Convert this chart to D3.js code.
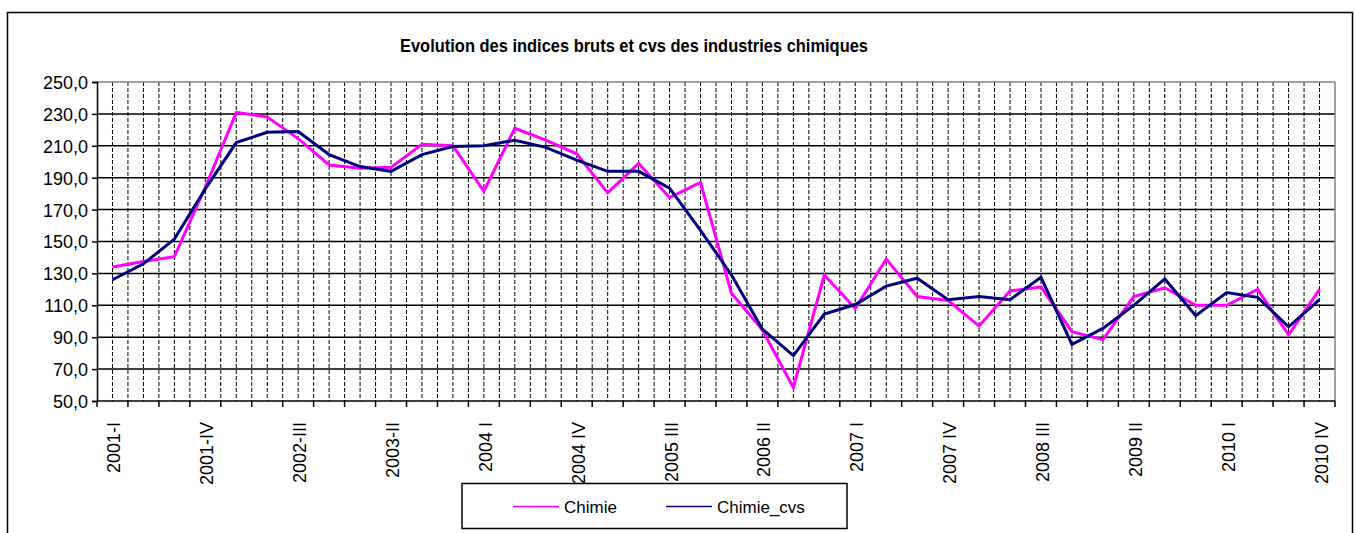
<!DOCTYPE html>
<html>
<head>
<meta charset="utf-8">
<script src="https://cdn.jsdelivr.net/npm/d3@7"></script>
<style>
  body { margin: 0; background: #fff; }
  text { font-family: "Liberation Sans", Arial, sans-serif; }
</style>
</head>
<body>
<div id="chart"></div>
<script>
// Quarters, 2001-I .. 2010-IV
var categories = [
  "2001-I", "2001-II", "2001-III", "2001-IV",
  "2002-I", "2002-II", "2002-III", "2002-IV",
  "2003-I", "2003-II", "2003-III", "2003-IV",
  "2004 I", "2004 II", "2004 III", "2004 IV",
  "2005 I", "2005 II", "2005 III", "2005 IV",
  "2006 I", "2006 II", "2006 III", "2006 IV",
  "2007 I", "2007 II", "2007 III", "2007 IV",
  "2008 I", "2008 II", "2008 III", "2008 IV",
  "2009 I", "2009 II", "2009 III", "2009 IV",
  "2010 I", "2010 II", "2010 III", "2010 IV"
];

// Raw index
var chimie = [
  134, 137.5, 140.5, 184, 231, 228, 214.5, 198, 196, 196.5,
  211, 210, 181.5, 221, 213.5, 205, 180.5, 199, 177.5, 187,
  117.5, 94.5, 58.5, 129, 108, 139, 115.5, 113, 97, 119,
  121.5, 93.5, 88.5, 115.5, 121, 110, 110, 120, 91.5, 120
];

// Seasonally adjusted index
var chimieCvs = [
  126, 136, 151.5, 183, 212, 218.5, 219, 204.5, 197, 194,
  204.5, 209.5, 210, 213.5, 209, 201, 194, 194, 183.5, 157,
  129, 95, 78.5, 104.5, 110.5, 122, 127, 113.5, 115.5, 113.5,
  127.5, 85.5, 95.5, 110, 126.5, 103.5, 118, 115, 96.5, 113.5
];

var yTicks = [50, 70, 90, 110, 130, 150, 170, 190, 210, 230, 250];

var seriesNames = ["Chimie", "Chimie_cvs"];
var seriesColors = ["#ff00ff", "#000080"];

var W = 1355, H = 533;
var plot = { left: 97, right: 1335, top: 82, bottom: 401 };

var svg = d3.select("#chart").append("svg")
  .attr("width", W)
  .attr("height", H);

// outer chart frame (bottom edge is off the picture)
svg.append("rect")
  .attr("x", 7.5).attr("y", 12.5)
  .attr("width", 1345).attr("height", 540)
  .attr("fill", "#fff")
  .attr("stroke", "#000")
  .attr("stroke-width", 1.5);

var x = d3.scaleBand()
  .domain(categories)
  .range([plot.left, plot.right])
  .padding(0);

var y = d3.scaleLinear()
  .domain([50, 250])
  .range([plot.bottom, plot.top]);

var fr = d3.formatLocale({ decimal: ",", thousands: " ", grouping: [3], currency: ["", ""] });
var fmt = fr.format(".1f");

// vertical dashed gridlines at every band edge and band centre
var half = [];
categories.forEach(function(c, i) {
  if (i > 0) half.push(x(c));
  half.push(x(c) + x.bandwidth() / 2);
});
svg.append("g").selectAll("line")
  .data(half)
  .enter().append("line")
  .attr("x1", function(d) { return d; })
  .attr("x2", function(d) { return d; })
  .attr("y1", plot.top)
  .attr("y2", plot.bottom)
  .attr("stroke", "#000")
  .attr("stroke-width", 1)
  .attr("stroke-dasharray", "4,2");

// horizontal gridlines
svg.append("g").selectAll("line")
  .data(yTicks.slice(1))
  .enter().append("line")
  .attr("x1", plot.left)
  .attr("x2", plot.right)
  .attr("y1", function(d) { return y(d); })
  .attr("y2", function(d) { return y(d); })
  .attr("stroke", function(d) { return d === 250 ? "#808080" : "#000"; })
  .attr("stroke-width", 1.5);

// plot frame right side
svg.append("line")
  .attr("x1", plot.right).attr("x2", plot.right)
  .attr("y1", plot.top).attr("y2", plot.bottom)
  .attr("stroke", "#808080").attr("stroke-width", 1.5);

// y axis
var yAxis = d3.axisLeft(y)
  .tickValues(yTicks)
  .tickFormat(fmt)
  .tickSize(5)
  .tickPadding(4);
var gy = svg.append("g")
  .attr("transform", "translate(" + plot.left + ",0)")
  .call(yAxis);
gy.select(".domain").attr("stroke", "#000").attr("stroke-width", 1.5);
gy.selectAll(".tick line").attr("stroke", "#000").attr("stroke-width", 1.5);
gy.selectAll(".tick text")
  .attr("font-size", 18)
  .attr("font-family", "'Liberation Sans', Arial, sans-serif")
  .attr("fill", "#000")
  .attr("dy", "0.36em");

// x axis: ticks at band edges
var edges = categories.map(function(c) { return x(c); }).concat([plot.right]);
svg.append("line")
  .attr("x1", plot.left).attr("x2", plot.right)
  .attr("y1", plot.bottom).attr("y2", plot.bottom)
  .attr("stroke", "#000").attr("stroke-width", 1.5);
svg.append("g").selectAll("line")
  .data(edges)
  .enter().append("line")
  .attr("x1", function(d) { return d; })
  .attr("x2", function(d) { return d; })
  .attr("y1", plot.bottom)
  .attr("y2", plot.bottom + 6)
  .attr("stroke", "#000")
  .attr("stroke-width", 1.5);

// x labels, every third quarter, rotated
svg.append("g").selectAll("text")
  .data(categories.filter(function(d, i) { return i % 3 === 0; }))
  .enter().append("text")
  .attr("transform", function(d) {
    return "translate(" + (x(d) + x.bandwidth() / 2 + 8) + "," + (plot.bottom + 21) + ") rotate(-90)";
  })
  .attr("text-anchor", "end")
  .attr("font-size", 18)
  .attr("fill", "#000")
  .text(function(d) { return d; });

// series lines
var line = d3.line()
  .x(function(d, i) { return x(categories[i]) + x.bandwidth() / 2; })
  .y(function(d) { return y(d); });

[chimie, chimieCvs].forEach(function(s, k) {
  svg.append("path")
    .datum(s)
    .attr("fill", "none")
    .attr("stroke", seriesColors[k])
    .attr("stroke-width", 3)
    .attr("stroke-linejoin", "miter")
    .attr("d", line);
});

// title
svg.append("text")
  .attr("x", 634)
  .attr("y", 52)
  .attr("text-anchor", "middle")
  .attr("font-size", 18)
  .attr("font-weight", "bold")
  .attr("textLength", 468)
  .attr("lengthAdjust", "spacingAndGlyphs")
  .attr("fill", "#000")
  .text("Evolution des indices bruts et cvs des industries chimiques");

// legend
var lg = svg.append("g");
lg.append("rect")
  .attr("x", 462).attr("y", 483.5)
  .attr("width", 385).attr("height", 45)
  .attr("fill", "#fff")
  .attr("stroke", "#000")
  .attr("stroke-width", 1.5);
var legendX = [513, 666];
seriesNames.forEach(function(n, k) {
  lg.append("line")
    .attr("x1", legendX[k]).attr("x2", legendX[k] + 46)
    .attr("y1", 506.5).attr("y2", 506.5)
    .attr("stroke", seriesColors[k])
    .attr("stroke-width", 1.5);
  lg.append("text")
    .attr("x", legendX[k] + 51)
    .attr("y", 506.5)
    .attr("dy", "0.36em")
    .attr("font-size", 17)
    .attr("fill", "#000")
    .text(n);
});
</script>
</body>
</html>
